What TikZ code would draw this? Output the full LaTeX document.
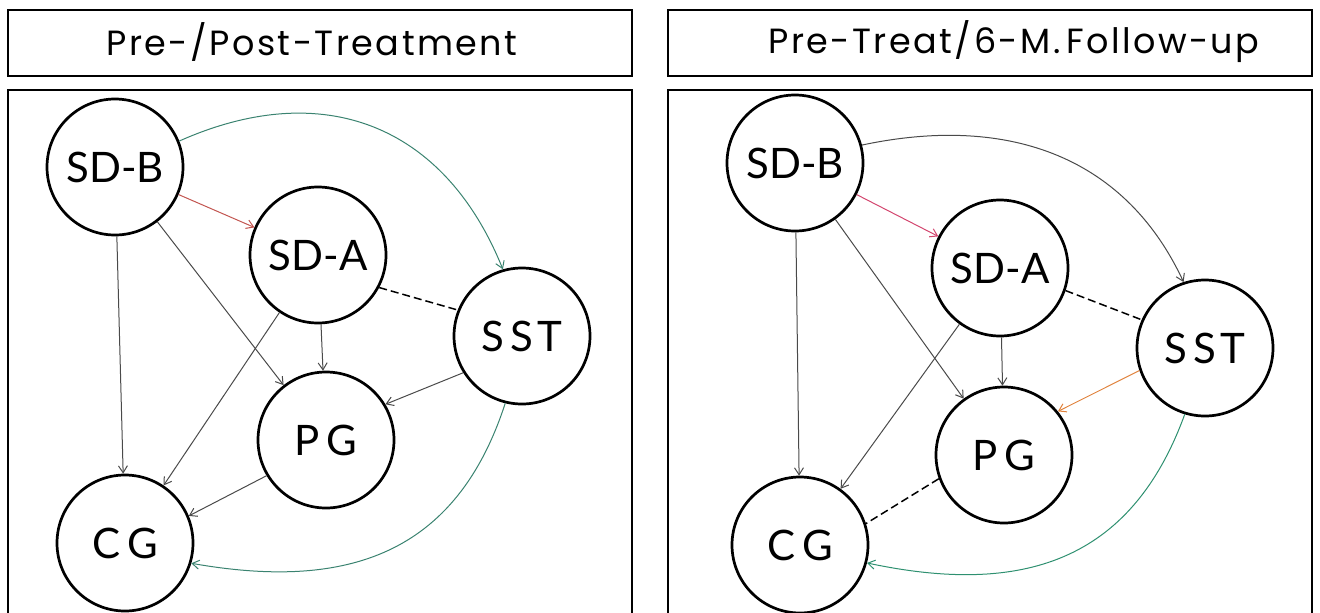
\documentclass[tikz,border=0pt]{standalone}
\usepackage{fontspec}
\setmainfont{Lato}
\newfontfamily\headfont[LetterSpace=7]{Poppins}
\usetikzlibrary{arrows.meta}

\definecolor{edgegray}{HTML}{4A4A4A}
\definecolor{redlink}{HTML}{C25550}
\definecolor{pinklink}{HTML}{D3456E}
\definecolor{orangelink}{HTML}{E0823C}
\definecolor{greenlink}{HTML}{2E9070}
\definecolor{teallink}{HTML}{3A8370}

\begin{document}
\begin{tikzpicture}[x=1pt,y=1pt,
  var/.style={circle, draw, line width=2.7pt, minimum size=136pt, inner sep=0pt,
              font=\fontsize{42}{46}\selectfont},
  frame/.style={draw, line width=1.6pt},
  head/.style={font=\headfont\fontsize{35}{40}\selectfont},
  link/.style={-{Straight Barb[length=7pt,width=9pt]}, line width=1pt, draw=edgegray},
  assoc/.style={dash pattern=on 8pt off 4pt, line width=1.5pt}
]
\useasboundingbox (0,0) rectangle (1320,-613);

% ---------- frames and headings ----------
\draw[frame] (8,-10) rectangle (632,-76);
\draw[frame] (8,-90) rectangle (632,-640);
\draw[frame] (668,-10) rectangle (1312,-76);
\draw[frame] (668,-90) rectangle (1312,-640);
\node[head] (t1) at (312,-42) {Pre-/Post-Treatment};
\node[head] (t2) at (1014,-42) {Pre-Treat/6-M.\,Follow-up};

% ---------- pre/post treatment model ----------
\node[var] (SDB1) at (115,-167) {SD-B};
\node[var] (SDA1) at (318,-255) {SD-A};
\node[var] (SST1) at (522,-336) {S\kern6pt S\kern4pt T};
\node[var] (PG1)  at (326,-440) {P\kern7pt G};
\node[var] (CG1)  at (125,-543) {C\kern7pt G};

\draw[link, draw=redlink] (SDB1) -- (SDA1);
\draw[link, draw=teallink] (SDB1.22) to[out=24, in=112, looseness=1.15] (SST1.106);
\draw[link] (SDB1) -- (CG1);
\draw[link] (SDB1) -- (PG1);
\draw[link] (SDA1) -- (PG1);
\draw[link] (SDA1) -- (CG1);
\draw[assoc] (SDA1.-28) -- (SST1.158);
\draw[link] (SST1.212) -- (PG1.31);
\draw[link] (PG1.211) -- (CG1.23);
\draw[link, draw=teallink] (SST1.256) to[out=252, in=-10, looseness=1.15] (CG1.-17);

% ---------- pre-treatment / 6-month follow-up model ----------
\node[var] (SDB2) at (795,-163) {SD-B};
\node[var] (SDA2) at (1000,-268) {SD-A};
\node[var] (SST2) at (1205,-348) {S\kern6pt S\kern4pt T};
\node[var] (PG2)  at (1004,-455) {P\kern7pt G};
\node[var] (CG2)  at (800,-545) {C\kern7pt G};

\draw[link, draw=pinklink] (SDB2) -- (SDA2);
\draw[link] (SDB2.15) to[out=12, in=115, looseness=1.05] (SST2.108);
\draw[link] (SDB2) -- (CG2);
\draw[link] (SDB2) -- (PG2);
\draw[link] (SDA2) -- (PG2);
\draw[link] (SDA2) -- (CG2);
\draw[assoc] (SDA2.-19) -- (SST2.156);
\draw[link, draw=orangelink] (SST2.199) -- (PG2.39);
\draw[assoc] (PG2.200) -- (CG2.18);
\draw[link, draw=greenlink] (SST2.253) to[out=250, in=-12, looseness=1.15] (CG2.-15);
\end{tikzpicture}
\end{document}
